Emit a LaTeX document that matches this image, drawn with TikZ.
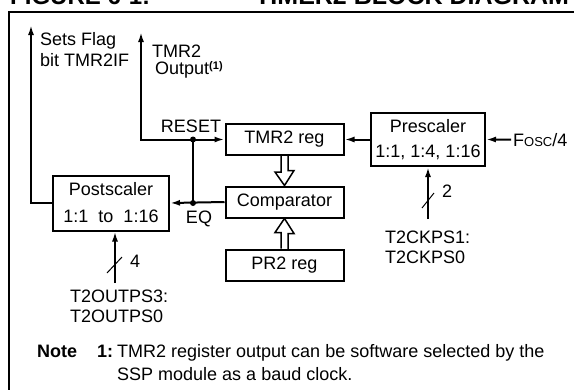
\documentclass[tikz,border=0pt]{standalone}
\usepackage{fontspec}
\setmainfont{Liberation Sans}
\usetikzlibrary{arrows.meta}
\begin{document}
\begin{tikzpicture}[x=1pt,y=-1pt,font=\fontsize{18}{21}\selectfont]
	\tikzstyle{block}=[draw,line width=2pt,inner sep=0pt,minimum width=118pt,minimum height=31pt,align=center]
	\tikzstyle{myarrow}=[line width=2pt,-{Latex[length=10pt,width=6pt]}]
	\tikzstyle{hollow}=[line width=1.5pt,line join=miter]
	\tikzstyle{lbl}=[inner sep=0pt,anchor=base west,align=left]
	\tikzstyle{dot}=[fill,shape=circle,minimum size=6pt,inner sep=0pt]

	\useasboundingbox (0,0) rectangle (574,389);
	\draw[line width=2pt] (9,12) rectangle (640,440);
	\node[lbl,font=\fontsize{24}{24}\selectfont\bfseries] (fig) at (10,4) {FIGURE 6-1:};
	\node[lbl,font=\fontsize{25}{25}\selectfont\bfseries] (title) at (255,4) {TIMER2 BLOCK DIAGRAM};

	% timer, comparator and period register
	\foreach \y/\t/\n in {139.5/TMR2 reg/tmr,202/Comparator/comp,265/PR2 reg/prr} { \node[block] (\n) at (284.5,\y) {\t};}
	\node[block,minimum width=114pt,minimum height=53pt,font=\fontsize{18}{25}\selectfont] (pre) at (428,139.5) {Prescaler\\1:1, 1:4, 1:16};
	\node[block,minimum width=116pt,minimum height=55pt,font=\fontsize{18}{27}\selectfont] (post) at (111,203) {Postscaler\\1:1~~to~~1:16};

	\coordinate (flagtop) at (31,25);
	\coordinate (outtop) at (141,32);
	\coordinate (rst) at (193,139.5);
	\coordinate (eq) at (193,203);
	\coordinate (cksrc) at (428,219);
	\coordinate (pssrc) at (115,283);

	\draw[myarrow] (post.west) -| (flagtop);
	\draw[myarrow] (rst) -| (outtop);
	\draw[myarrow] (rst) -- (tmr.west);
	\draw[line width=2pt] (rst) -- (eq);
	\draw[myarrow] (comp.west) -- (post.east);
	\node[dot] (rstdot) at (rst) {};
	\node[dot] (eqdot) at (eq) {};
	\draw[myarrow] (pre.west) -- (tmr.east);

	% hollow bus arrows
	\draw[hollow] ([xshift=-3.5pt]tmr.south) -- ++(0,16) -- ++(-6,0) -- (comp.north) -- ++(9.5,-15) -- ++(-6,0) -- ++(0,-16);
	\draw[hollow] ([xshift=-3.5pt]prr.north) -- ++(0,-16) -- ++(-6,0) -- (comp.south) -- ++(9.5,15) -- ++(-6,0) -- ++(0,16);

	\node[lbl,inner xsep=2pt] (fosc) at (511,146) {F{\fontsize{13}{13}\selectfont OSC}/4};
	\draw[myarrow] (fosc.west) -- (pre.east);

	% select bits
	\draw[myarrow] (cksrc) -- (cksrc |- pre.south);
	\draw[line width=1pt] (422,208) -- (434,193);
	\node[lbl] (ckw) at (442,197) {2};
	\node[lbl,font=\fontsize{18}{20}\selectfont] (cksel) at (385,263) {T2CKPS1:\\T2CKPS0};
	\draw[myarrow] (pssrc) -- (pssrc |- post.south);
	\draw[line width=1pt] (107,273) -- (122,257);
	\node[lbl] (psw) at (130,267) {4};
	\node[lbl,font=\fontsize{18}{20}\selectfont] (pssel) at (70,322) {T2OUTPS3:\\T2OUTPS0};

	\node[lbl] (flag) at (40,66) {Sets Flag\\bit TMR2IF};
	\node[lbl,font=\fontsize{18}{17}\selectfont] (out) at (152,74) {TMR2\\\hspace{3pt}Output\raisebox{5pt}{\fontsize{11}{11}\selectfont\bfseries(1)}};
	\node[lbl,anchor=base] (reset) at (191,132) {RESET};
	\node[lbl,anchor=base] (eqlbl) at (199,223) {EQ};

	% note
	\node[lbl,font=\fontsize{18}{21}\selectfont\bfseries] (note) at (37,357) {Note};
	\node[lbl,font=\fontsize{18}{21}\selectfont\bfseries] (noteno) at (97,357) {1:};
	\node[lbl,font=\fontsize{18}{23}\selectfont] (notetxt) at (117,380) {TMR2 register output can be software selected by the\\SSP module as a baud clock.};

\end{tikzpicture}
\end{document}
